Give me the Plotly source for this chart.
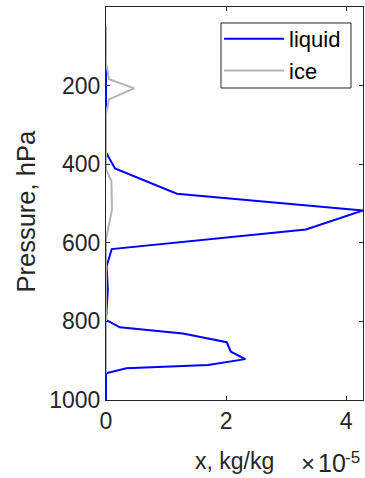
import plotly.graph_objects as go

# Liquid water mixing ratio profile (x 1e-5 kg/kg) vs pressure (hPa)
p_liquid = [50, 370, 411, 475, 518, 566, 616, 660, 720, 796, 815, 831, 853, 877, 896, 911, 919, 932, 1000]
q_liquid = [0, 0, 0.15, 1.18, 4.28, 3.33, 0.095, 0.01, 0.03, 0, 0.23, 1.28, 2.01, 2.08, 2.32, 1.70, 0.34, 0, 0]

# Ice mixing ratio profile (x 1e-5 kg/kg)
p_ice = [50, 141, 184, 207, 235, 273, 413, 443, 515, 592, 932]
q_ice = [0, 0, 0.05, 0.47, 0.05, 0, 0, 0.09, 0.10, 0, 0]

x_ticks = [0, 2, 4]
y_ticks = [200, 400, 600, 800, 1000]
scale = 1e-5

FONT = "Liberation Sans, Arial, Helvetica, sans-serif"
AX = "#262626"

fig = go.Figure()
fig.add_trace(go.Scatter(x=[v * scale for v in q_liquid], y=p_liquid, mode="lines",
                         name="liquid", line=dict(color="#0000FF", width=2)))
fig.add_trace(go.Scatter(x=[v * scale for v in q_ice], y=p_ice, mode="lines",
                         name="ice", line=dict(color="#B4B4B4", width=2)))

fig.update_layout(
    width=365, height=478,
    margin=dict(l=106, r=2, t=7, b=78),
    paper_bgcolor="white", plot_bgcolor="white",
    font=dict(family=FONT, size=23, color=AX),
    showlegend=True,
    legend=dict(x=0.44, y=0.972, xanchor="left", yanchor="top",
                bgcolor="rgba(0,0,0,0)", borderwidth=0,
                font=dict(size=22, color="#000000"),
                itemwidth=60, tracegroupgap=0),
)
# legend frame
fig.add_shape(type="rect", xref="paper", yref="paper",
              x0=0.4475, x1=0.9533, y0=0.7939, y1=0.9593,
              line=dict(color=AX, width=1), fillcolor="white", layer="below")

fig.update_xaxes(
    range=[0, 4.28 * scale],
    tickvals=[v * scale for v in x_ticks], ticktext=[str(v) for v in x_ticks],
    ticks="inside", ticklen=4, tickcolor=AX, mirror="ticks",
    showline=True, linecolor=AX, linewidth=1, showgrid=False, zeroline=False,
    tickfont=dict(size=23, color=AX),
)
fig.update_yaxes(
    range=[1000, 0],
    tickvals=y_ticks, ticktext=[str(v) for v in y_ticks],
    ticks="inside", ticklen=4, tickcolor=AX, mirror="ticks",
    showline=True, linecolor=AX, linewidth=1, showgrid=False, zeroline=False,
    tickfont=dict(size=23, color=AX),
)

fig.add_annotation(text="x, kg/kg", xref="paper", yref="paper", x=0.5, y=0,
                   yshift=-46, xanchor="center", yanchor="top", showarrow=False,
                   font=dict(size=23, color=AX))
fig.add_annotation(text="Pressure, hPa", xref="paper", yref="paper", x=0, y=0.5,
                   xshift=-81, yshift=-8, xanchor="center", yanchor="middle", textangle=-90,
                   showarrow=False, font=dict(size=25.5, color=AX))
# axis exponent: "×10^-5"
fig.add_annotation(text="\u00d7", xref="paper", yref="paper", x=(300 - 106) / 257, y=0,
                   yshift=-78, xanchor="left", yanchor="bottom", showarrow=False,
                   borderpad=0, font=dict(size=24, color=AX))
fig.add_annotation(text="10", xref="paper", yref="paper", x=(317 - 106) / 257, y=0,
                   yshift=-78, xanchor="left", yanchor="bottom", showarrow=False,
                   borderpad=0, font=dict(size=25, color=AX))
fig.add_annotation(text="-5", xref="paper", yref="paper", x=(344 - 106) / 257, y=0,
                   yshift=-68, xanchor="left", yanchor="bottom", showarrow=False,
                   borderpad=0, font=dict(size=17, color=AX))

fig.write_html("out.html")
